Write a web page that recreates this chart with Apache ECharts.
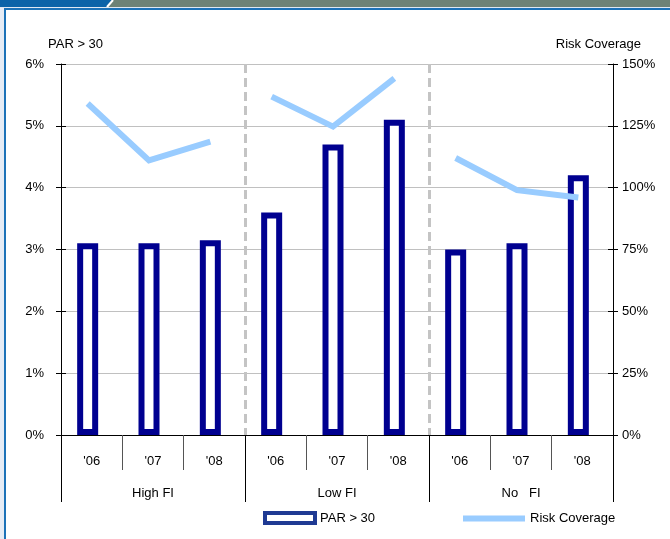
<!DOCTYPE html>
<html>
<head>
<meta charset="utf-8">
<script src="https://cdn.jsdelivr.net/npm/echarts@6/dist/echarts.min.js"></script>
<style>
  html, body { margin: 0; padding: 0; background: #fff; }
  #chart { width: 670px; height: 539px; }
</style>
</head>
<body>
<div id="chart"></div>
<script>
// Years within each institution group
const categories = ["'06", "'07", "'08", "'06", "'07", "'08", "'06", "'07", "'08"];
// Institution groups (three years each)
const groups = ['High FI', 'Low FI', 'No   FI'];
// Group boundaries (used for the dashed dividers)
const groupEdges = ['start', 'high|low', 'low|none', 'end'];
// Portfolio at risk > 30 days, in percent
const parValues = [3.1, 3.1, 3.15, 3.6, 4.7, 5.1, 3.0, 3.1, 4.2];
// Risk coverage ratio, in percent
const riskValues = [134, 111, 118.6, 136.8, 124.7, 144.2, 112, 99, 96];
// Axis tick labels
const parTicks = [0, 1, 2, 3, 4, 5, 6];
const riskTicks = [0, 25, 50, 75, 100, 125, 150];

const FONT = 'Liberation Sans, Arial, sans-serif';
const NAVY = '#000090';
const LIGHT = '#99ccff';

// one line segment per group so the line breaks between groups
function groupSlice(g) {
  return riskValues.map((v, i) => (Math.floor(i / 3) === g ? v : '-'));
}

const hiddenAxis = {
  axisLine: { show: false }, axisTick: { show: false },
  axisLabel: { show: false }, splitLine: { show: false }
};

const chart = echarts.init(document.getElementById('chart'), null, { renderer: 'canvas' });

const option = {
  animation: false,
  backgroundColor: '#fff',
  textStyle: { fontFamily: FONT },
  title: [
    { text: 'PAR > 30', left: 43, top: 33,
      textStyle: { fontFamily: FONT, fontSize: 13, fontWeight: 'normal', color: '#000' } },
    { text: 'Risk Coverage', right: 24, top: 33,
      textStyle: { fontFamily: FONT, fontSize: 13, fontWeight: 'normal', color: '#000' } }
  ],
  grid: [
    { left: 61, right: 57, top: 64, bottom: 104, containLabel: false },
    // line layer, nudged so its points sit over the bar centres
    { left: 57, right: 61, top: 64, bottom: 104, containLabel: false }
  ],
  legend: [
    {
      data: [{ name: 'PAR > 30', icon: 'rect',
        itemStyle: { color: '#fff', borderColor: '#1f3a93', borderWidth: 4 } }],
      left: 258, top: 506, itemWidth: 50, itemHeight: 10, itemGap: 4,
      textStyle: { fontFamily: FONT, fontSize: 13, color: '#000' }
    },
    {
      data: [{ name: 'Risk Coverage', icon: 'rect', itemStyle: { color: LIGHT } }],
      left: 458, top: 507, itemWidth: 62, itemHeight: 6,
      textStyle: { fontFamily: FONT, fontSize: 13, color: '#000' }
    }
  ],
  xAxis: [
    {
      type: 'category', data: categories, position: 'bottom', gridIndex: 0,
      axisLine: { show: true, lineStyle: { color: '#000', width: 1 } },
      axisTick: { show: true, length: 35, lineStyle: { color: '#555' } },
      axisLabel: { margin: 20, fontSize: 13, color: '#000', fontFamily: FONT },
      splitLine: { show: false }
    },
    {
      type: 'category', data: groups, position: 'bottom', gridIndex: 0,
      axisLine: { show: false },
      axisTick: { show: true, length: 67, lineStyle: { color: '#000' } },
      axisLabel: { margin: 52, fontSize: 13, color: '#000', fontFamily: FONT },
      splitLine: { show: false }
    },
    {
      // dashed dividers between the groups
      type: 'category', data: groupEdges, boundaryGap: false, gridIndex: 0,
      axisLine: { show: false }, axisTick: { show: false }, axisLabel: { show: false },
      splitLine: { show: true, interval: (i) => i === 1 || i === 2,
        lineStyle: { color: '#c4c4c4', width: 3, type: [9, 5] } }
    },
    Object.assign({ type: 'category', data: categories, gridIndex: 1 }, hiddenAxis)
  ],
  yAxis: [
    {
      type: 'value', min: 0, max: 6, interval: 1, position: 'left', gridIndex: 0,
      axisLine: { show: true, lineStyle: { color: '#000' } },
      axisTick: { show: true, length: 5, lineStyle: { color: '#000' } },
      axisLabel: { margin: 17, fontSize: 13, color: '#000', fontFamily: FONT,
        formatter: v => (parTicks.includes(v) ? v + '%' : '') },
      splitLine: { show: true, lineStyle: { color: '#c0c0c0', width: 1 } }
    },
    {
      type: 'value', min: 0, max: 150, interval: 25, position: 'right', gridIndex: 0,
      axisLine: { show: true, lineStyle: { color: '#000' } },
      axisTick: { show: true, length: 5, lineStyle: { color: '#000' } },
      axisLabel: { margin: 9, fontSize: 13, color: '#000', fontFamily: FONT,
        formatter: v => (riskTicks.includes(v) ? v + '%' : '') },
      splitLine: { show: false }
    },
    Object.assign({ type: 'value', min: 0, max: 150, interval: 25, gridIndex: 1 }, hiddenAxis),
    // inner halves of the crossing tick marks
    {
      type: 'value', min: 0, max: 6, interval: 1, position: 'left', gridIndex: 0,
      axisLine: { show: false }, axisLabel: { show: false }, splitLine: { show: false },
      axisTick: { show: true, inside: true, length: 5, lineStyle: { color: '#000' } }
    },
    {
      type: 'value', min: 0, max: 150, interval: 25, position: 'right', gridIndex: 0,
      axisLine: { show: false }, axisLabel: { show: false }, splitLine: { show: false },
      axisTick: { show: true, inside: true, length: 5, lineStyle: { color: '#000' } }
    }
  ],
  series: [
    {
      name: 'PAR > 30', type: 'bar', xAxisIndex: 0, yAxisIndex: 0,
      data: parValues, barWidth: 21, barGap: '0%',
      itemStyle: { color: '#fff', borderColor: NAVY, borderWidth: 6 },
      z: 3
    },
    {
      // empty spacer series: reserves a narrow slot right of each bar
      name: 'spacer', type: 'bar', xAxisIndex: 0, yAxisIndex: 0,
      data: parValues.map(() => '-'), barWidth: 8, barGap: '0%',
      silent: true
    }
  ].concat([0, 1, 2].map(g => ({
    name: 'Risk Coverage', type: 'line', xAxisIndex: 3, yAxisIndex: 2,
    data: groupSlice(g), showSymbol: false, symbol: 'none', connectNulls: false,
    lineStyle: { color: LIGHT, width: 6, cap: 'butt', join: 'miter' },
    itemStyle: { color: LIGHT },
    z: 4
  }))),
  graphic: [
    // page frame: header band and left border
    { type: 'rect', shape: { x: 0, y: 0, width: 670, height: 7 }, style: { fill: '#6d8276' }, silent: true },
    { type: 'polygon', shape: { points: [[0, 0], [112, 0], [106, 7], [0, 7]] }, style: { fill: '#0b63a8' }, silent: true },
    { type: 'line', shape: { x1: 113, y1: 0, x2: 107, y2: 7 }, style: { stroke: '#fff', lineWidth: 2 }, silent: true },
    { type: 'rect', shape: { x: 0, y: 7, width: 670, height: 1 }, style: { fill: '#dfe8f2' }, silent: true },
    { type: 'rect', shape: { x: 0, y: 8, width: 670, height: 2 }, style: { fill: '#1c72b8' }, silent: true },
    { type: 'rect', shape: { x: 0, y: 8, width: 4, height: 531 }, style: { fill: '#e6ecf5' }, silent: true },
    { type: 'rect', shape: { x: 4, y: 8, width: 2, height: 531 }, style: { fill: '#1c72b8' }, silent: true }
  ]
};

chart.setOption(option);
</script>
</body>
</html>
